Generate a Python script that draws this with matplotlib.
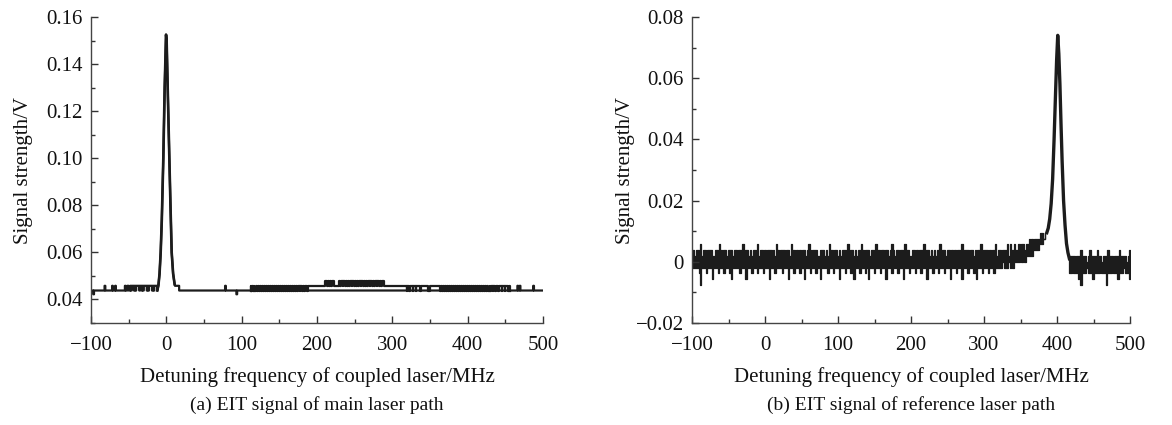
import numpy as np
import matplotlib
matplotlib.use('Agg')
import matplotlib.pyplot as plt
from matplotlib.ticker import MultipleLocator

plt.rcParams['font.family'] = ['Liberation Serif', 'DejaVu Serif']
plt.rcParams['axes.unicode_minus'] = True

# ---------------- data: (a) main laser path ----------------
A_BASE = 0.0438          # lower quantisation level
A_MID = 0.0458           # next level
A_TOP = 0.0478           # highest flat level
A_LOW = 0.0422           # occasional downward glitch
A_RANGE = (-100, 500)

# up-pulses of the first sweep (to A_MID)
A_UP = [(-82, -81), (-72, -71), (-68, -67), (-55, -54), (-52, -50), (-48, -47),
        (-46, -43), (-42, -41), (-40, -36), (-35, -33), (-32, -31), (-30, -26),
        (-25, -24), (-23, -19), (-18, -17), (-16, -12), (78, 79),
        (466, 467), (469, 470), (487, 488)]
# downward glitches of the first sweep (to A_LOW)
A_DOWN = [(-97, -96), (93, 94)]
# EIT peak of the main path (with shoulder)
PEAK_A_X = [-12, -10.5, -9, -7.5, -6, -4, -2.2, -1, -0.4, 0.4, 1.8, 4, 5.5, 7.1, 9, 11, 11.5, 17, 17]
PEAK_A_Y = [0.0438, 0.046, 0.051, 0.060, 0.074, 0.100, 0.130, 0.145, 0.1525, 0.150,
            0.130, 0.100, 0.080, 0.060, 0.051, 0.0465, 0.0458, 0.0458, 0.0438]

# second sweep, sitting at A_MID
B_RANGE = (113, 456)
B_DOWN = [(113, 114), (115, 116), (117, 119), (120, 122), (123, 124), (125, 127),
          (128, 130), (131, 132), (133, 135), (136, 138), (139, 140), (141, 143),
          (144, 146), (147, 148), (149, 151), (152, 154), (155, 156), (157, 159),
          (160, 162), (163, 164), (165, 167), (168, 170), (171, 172), (174, 175),
          (177, 178), (180, 181), (183, 184), (187, 188),
          (319, 320), (322, 323), (327, 328), (331, 332), (337, 338), (348, 350),
          (363, 365), (366, 367), (368, 370), (371, 373), (374, 375), (376, 378),
          (379, 381), (382, 383), (384, 386), (387, 389), (390, 391), (392, 394),
          (395, 397), (398, 399), (400, 402), (403, 405), (406, 407), (408, 410),
          (411, 413), (414, 415), (416, 418), (419, 421), (422, 423), (424, 426),
          (427, 429), (430, 431), (433, 434), (436, 437), (440, 441), (445, 446),
          (449, 450), (453, 455)]
B_UP = [(211, 213), (214, 216), (217, 219), (220, 223), (229, 231), (232, 234),
        (235, 237), (238, 240), (241, 243), (244, 246), (247, 249), (250, 252),
        (253, 255), (256, 258), (259, 261), (262, 264), (265, 267), (268, 270),
        (271, 273), (274, 276), (277, 279), (280, 282), (283, 285), (286, 289)]

# ---------------- data: (b) reference laser path ----------------
# dense oscilloscope trace: per 2 MHz column, the highest and lowest ADC level
Q_STEP = 0.0019          # ADC quantisation step
Q_ZERO = 4               # digit that stands for 0 V
NOISE_PRE_RANGE = (-100, 384)
NOISE_PRE_HI = ("665665756656665566576566566656"
                "656667566565665756656566656576"
                "566656657665656566567656665566"
                "656576656656566657566565667656"
                "665665756566566567656656657665"
                "566565666756656565667566566565"
                "656657566656656566756665656675"
                "665666757667667677677878788889"
                "989")
NOISE_PRE_LO = ("333332033323331333233323332133"
                "333233313332333233323331333233"
                "332333133323332331333233323313"
                "333233323331333233323133323332"
                "313332333233313332333233313332"
                "333233323331333233323332333133"
                "323331333233323133323332333233"
                "333433343434444545455555666677"
                "788")
PEAK_B_X = [386, 388, 390, 392, 394, 396, 398, 399.5, 401, 402.5, 404, 405.5, 407, 409, 411, 413, 415, 417]
PEAK_B_Y = [0.0095, 0.011, 0.014, 0.019, 0.027, 0.040, 0.055, 0.066, 0.074, 0.068,
            0.058, 0.045, 0.033, 0.020, 0.012, 0.006, 0.003, 0.001]
NOISE_POST_RANGE = (417, 500)
NOISE_POST_HI = "555545556555456555565545556555455565555456"
NOISE_POST_LO = "223222120222322212222322202223222122232221"

XTICKS = [-100, 0, 100, 200, 300, 400, 500]
XTICKLABELS = ['\u2212100', '0', '100', '200', '300', '400', '500']
A_YTICKS = [0.04, 0.06, 0.08, 0.10, 0.12, 0.14, 0.16]
A_YTICKLABELS = ['0.04', '0.06', '0.08', '0.10', '0.12', '0.14', '0.16']
B_YTICKS = [-0.02, 0, 0.02, 0.04, 0.06, 0.08]
B_YTICKLABELS = ['\u22120.02', '0', '0.02', '0.04', '0.06', '0.08']
XLABEL = 'Detuning frequency of coupled laser/MHz'
YLABEL = 'Signal strength/V'
CAPTION_A = '(a) EIT signal of main laser path'
CAPTION_B = '(b) EIT signal of reference laser path'


def build_trace(x_start, x_end, base, shapes):
    """Concatenate shapes (lists of (x, y)) along a flat baseline."""
    shapes = sorted(shapes, key=lambda s: s[0][0])
    xs, ys = [x_start], [base]
    for s in shapes:
        for x, y in s:
            xs.append(x)
            ys.append(y)
    xs.append(x_end)
    ys.append(base)
    return np.array(xs), np.array(ys)


def pulse(x0, x1, base, level):
    return [(x0, base), (x0, level), (x1, level), (x1, base)]


def decode(digits):
    return np.array([(int(c) - Q_ZERO) * Q_STEP for c in digits])


# trace A
shapes_a = [pulse(a, b, A_BASE, A_MID) for a, b in A_UP]
shapes_a += [pulse(a, b, A_BASE, A_LOW) for a, b in A_DOWN]
shapes_a.append(list(zip(PEAK_A_X, PEAK_A_Y)))
xa, ya = build_trace(A_RANGE[0], A_RANGE[1], A_BASE, shapes_a)

# trace B
shapes_b = [pulse(a, b, A_MID, A_BASE) for a, b in B_DOWN]
shapes_b += [pulse(a, b, A_MID, A_TOP) for a, b in B_UP]
xb, yb = build_trace(B_RANGE[0], B_RANGE[1], A_MID, shapes_b)
xb = np.concatenate([[B_RANGE[0]], xb, [B_RANGE[1]]])
yb = np.concatenate([[A_BASE], yb, [A_BASE]])

# reference path envelopes
pre_hi, pre_lo = decode(NOISE_PRE_HI), decode(NOISE_PRE_LO)
pre_x = np.linspace(*NOISE_PRE_RANGE, len(pre_hi))
post_hi, post_lo = decode(NOISE_POST_HI), decode(NOISE_POST_LO)
post_x = np.linspace(*NOISE_POST_RANGE, len(post_hi))

# ---------------- figure ----------------
W, H = 1172, 425
fig = plt.figure(figsize=(W / 100, H / 100), dpi=100)
ax1 = fig.add_axes([91 / W, 1 - 323 / H, 452 / W, 306 / H])
ax2 = fig.add_axes([692 / W, 1 - 323 / H, 438 / W, 306 / H])

LC = '#1c1c1c'
ax1.plot(xa, ya, color=LC, lw=1.6)
ax1.plot(xb, yb, color=LC, lw=1.6)
ax1.plot(PEAK_A_X[:-3], PEAK_A_Y[:-3], color=LC, lw=1.9)

for xx, lo, hi in [(pre_x, pre_lo, pre_hi), (post_x, post_lo, post_hi)]:
    ax2.fill_between(xx, lo, hi, step='mid', color=LC, lw=0.9, edgecolor=LC)
ax2.plot(PEAK_B_X, PEAK_B_Y, color=LC, lw=2.4)

FS = 15
for ax, yt, ytl, ylim in [(ax1, A_YTICKS, A_YTICKLABELS, (0.03, 0.16)),
                          (ax2, B_YTICKS, B_YTICKLABELS, (-0.02, 0.08))]:
    ax.set_xlim(-100, 500)
    ax.set_ylim(*ylim)
    ax.set_xticks(XTICKS)
    ax.set_xticklabels(XTICKLABELS)
    ax.set_yticks(yt)
    ax.set_yticklabels(ytl)
    ax.xaxis.set_minor_locator(MultipleLocator(50))
    ax.yaxis.set_minor_locator(MultipleLocator(0.01))
    ax.tick_params(which='both', direction='in', width=1, colors='#333333',
                   labelcolor='#111111', labelsize=FS)
    ax.tick_params(axis='x', which='both', pad=9)
    ax.tick_params(axis='y', which='both', pad=6)
    ax.tick_params(which='major', length=5)
    ax.tick_params(which='minor', length=3)
    for s in ['top', 'right']:
        ax.spines[s].set_visible(False)
    for s in ['left', 'bottom']:
        ax.spines[s].set_color('#444444')
        ax.spines[s].set_linewidth(1)
    ax.set_xlabel(XLABEL, fontsize=FS, color='#111111', labelpad=9)
    ax.set_ylabel(YLABEL, fontsize=FS, color='#111111')

ax1.yaxis.set_label_coords(-0.128, 0.5)
ax2.yaxis.set_label_coords(-0.13, 0.5)

fig.text((91 + 452 / 2) / W, 1 - 405 / H, CAPTION_A, ha='center', va='center',
         fontsize=FS - 1, color='#111111')
fig.text((692 + 438 / 2) / W, 1 - 405 / H, CAPTION_B, ha='center', va='center',
         fontsize=FS - 1, color='#111111')

fig.savefig('out.png', dpi=100)
